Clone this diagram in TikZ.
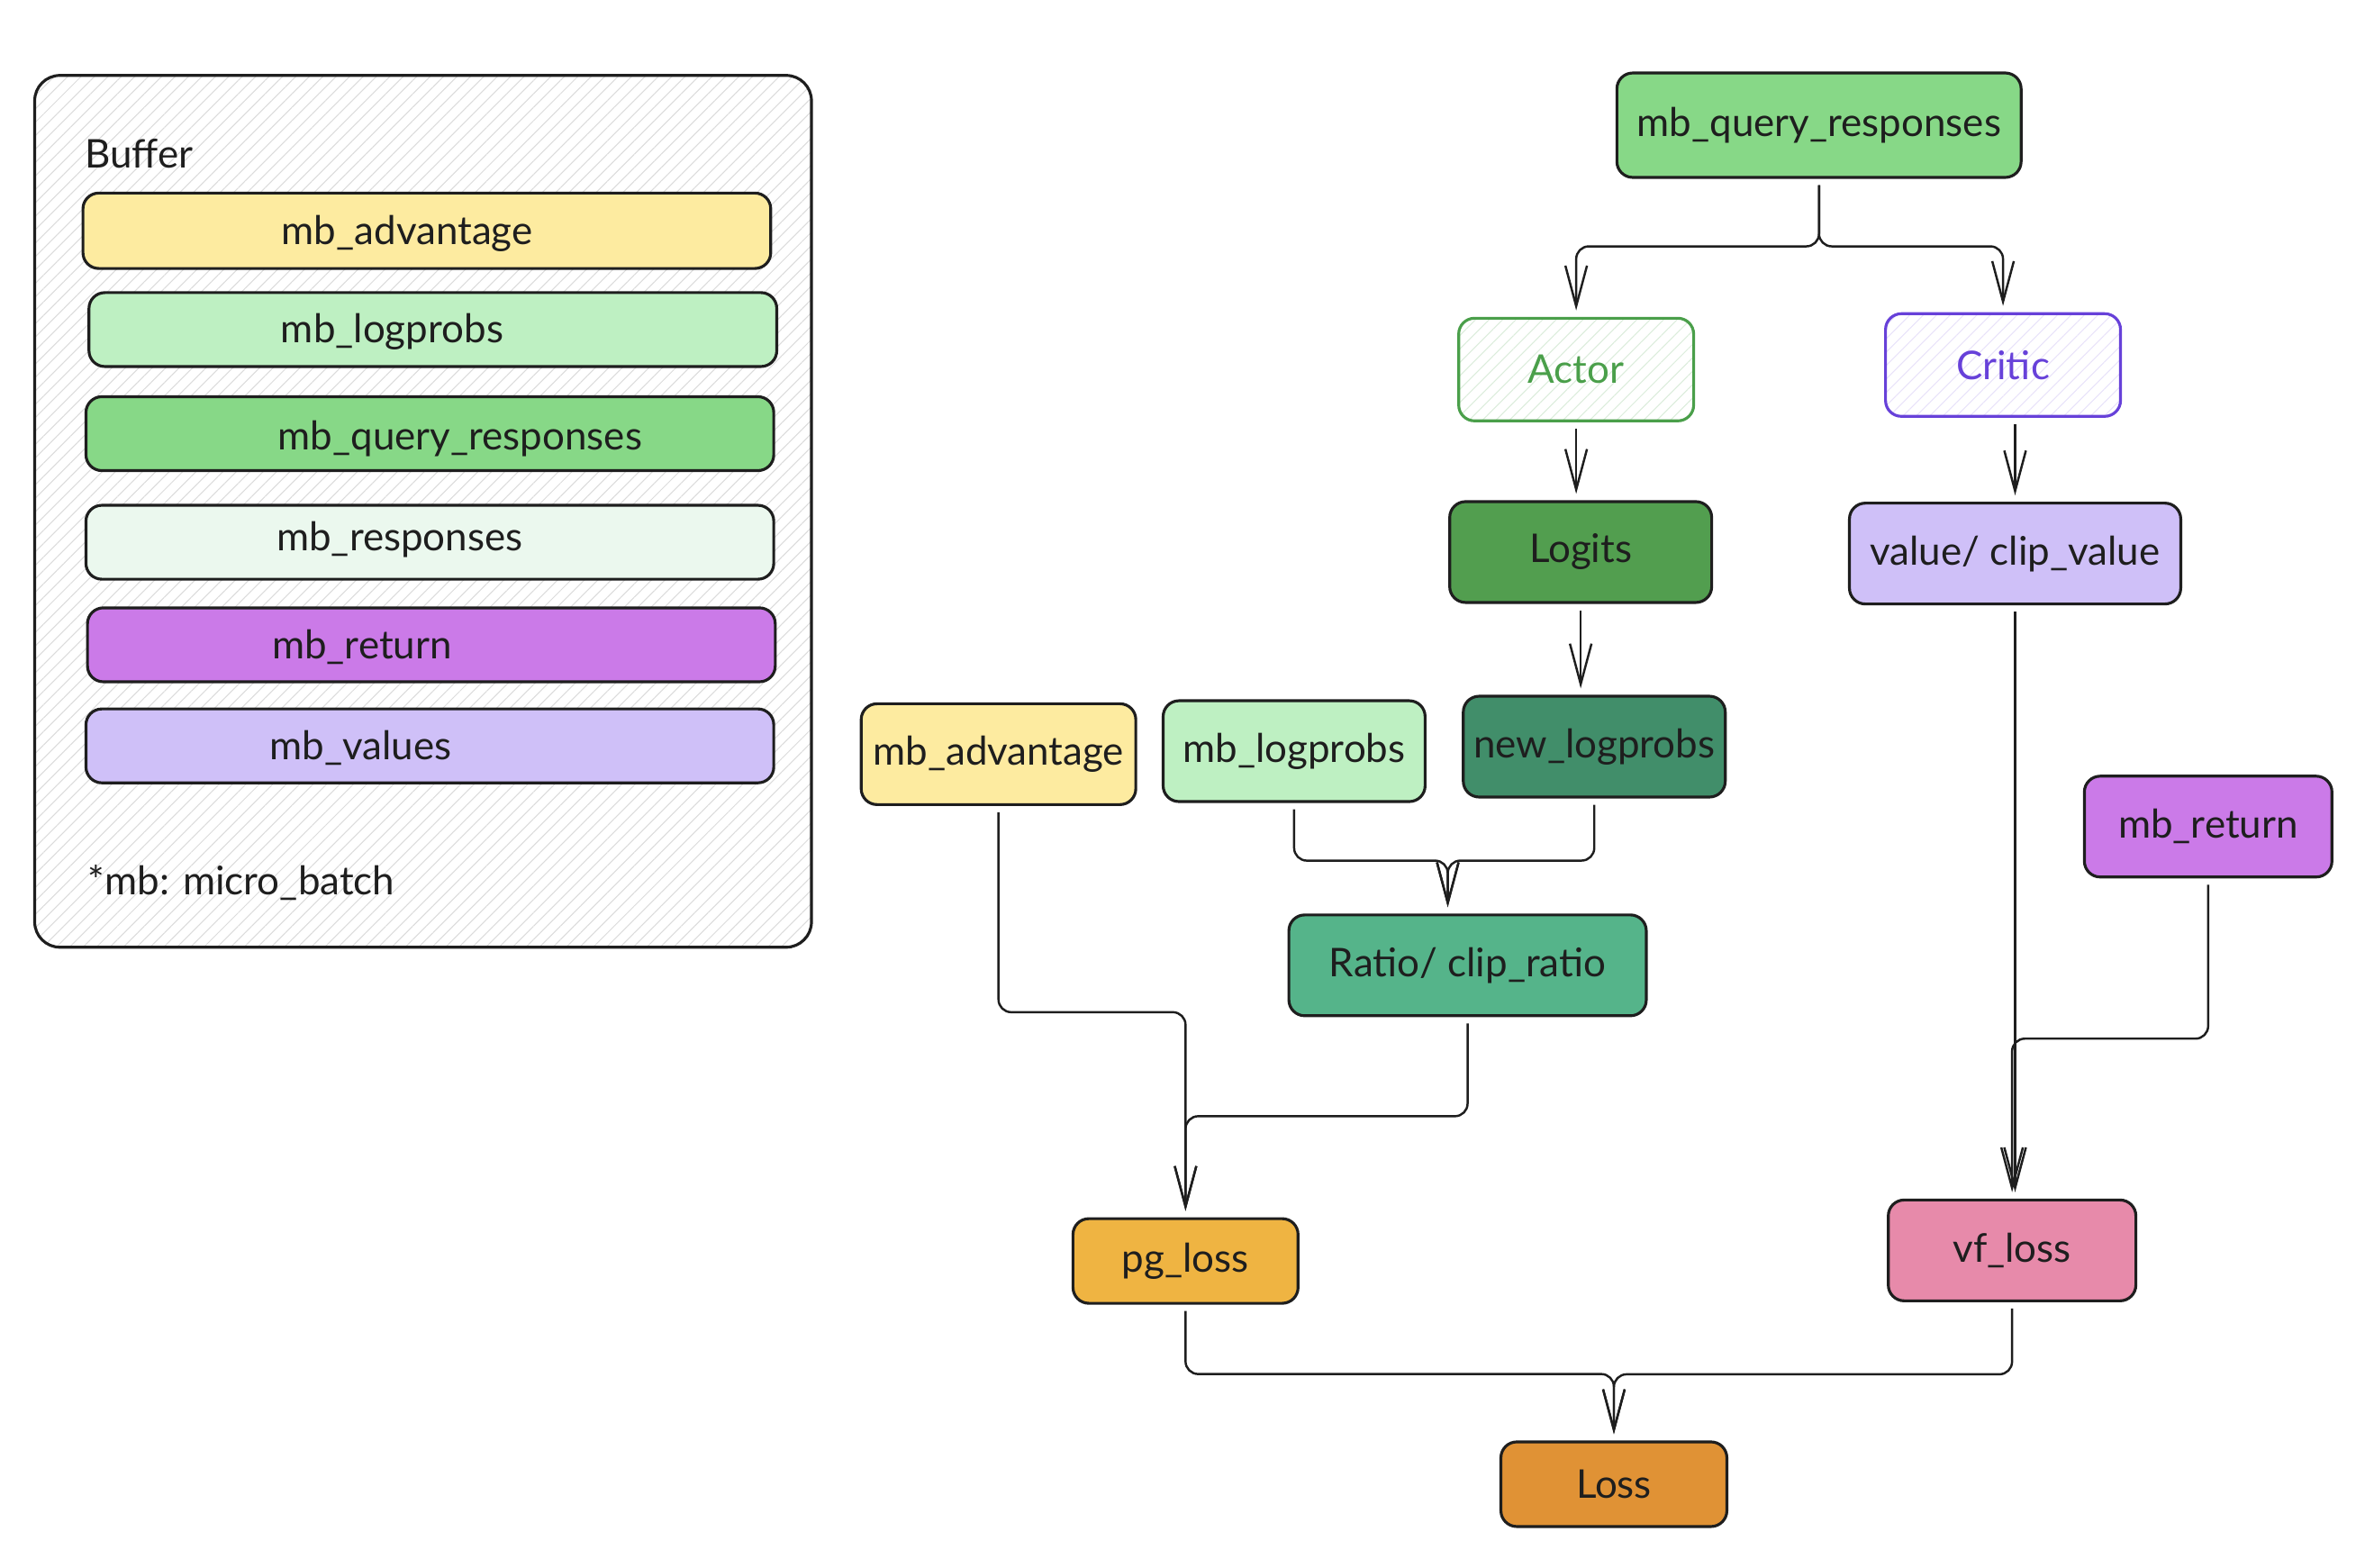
\documentclass[tikz,border=0pt]{standalone}
\usepackage{fontspec}
\setmainfont{Lato}
\usetikzlibrary{arrows.meta,patterns.meta}
\definecolor{ink}{HTML}{1E1E1E}
\definecolor{advyellow}{HTML}{FDEBA0}
\definecolor{lightgreen}{HTML}{BEF0C2}
\definecolor{qrgreen}{HTML}{87D887}
\definecolor{paleg}{HTML}{EBF8EE}
\definecolor{grape}{HTML}{CB7AE8}
\definecolor{lavender}{HTML}{CFC0F8}
\definecolor{logitsgreen}{HTML}{529E4F}
\definecolor{newlpgreen}{HTML}{418E6A}
\definecolor{ratiogreen}{HTML}{55B48A}
\definecolor{pgorange}{HTML}{EFB442}
\definecolor{vfpink}{HTML}{E78AAA}
\definecolor{lossorange}{HTML}{E09235}
\definecolor{actorgreen}{HTML}{4A9F4A}
\definecolor{criticviolet}{HTML}{6741D9}
\begin{document}
\begin{tikzpicture}[x=0.016747cm,y=-0.016747cm,
                        font=\fontsize{12.5}{15}\selectfont, text=ink,
                        frame/.style={draw=ink,line width=0.9pt,rounded corners=5pt},
                        box/.style={shape=rectangle,draw=ink,line width=0.9pt,rounded corners=5pt,minimum height=1.12cm,inner sep=0pt},
                        hatch/.style={pattern={Lines[angle=45,distance=3pt,line width=0.3pt]},pattern color=#1},
                        link/.style={draw=ink,line width=0.7pt,rounded corners=4pt,shorten <=2pt,shorten >=2pt,-{Straight Barb[length=4.5mm,width=2.4mm]}}
                        ]
                        \useasboundingbox (0,0) rectangle (1568,1039);
                        %Buffer
                        \draw [frame,rounded corners=8pt,hatch=black!14] (23,50) rectangle (538,628);
                        \node [anchor=west] (buftitle) at (49,102) {Buffer};
                        \draw [frame,fill=advyellow] (55,128) rectangle (511,178);
                        \node (bufadv) at (270,155) {mb\_advantage};
                        \draw [frame,fill=lightgreen] (59,194) rectangle (515,243);
                        \node (buflp) at (260,220) {mb\_logprobs};
                        \draw [frame,fill=qrgreen] (57,263) rectangle (513,312);
                        \node (bufqr) at (305,291) {mb\_query\_responses};
                        \draw [frame,fill=paleg] (57,335) rectangle (513,384);
                        \node (bufresp) at (265,358) {mb\_responses};
                        \draw [frame,fill=grape] (58,403) rectangle (514,452);
                        \node (bufret) at (240,429) {mb\_return};
                        \draw [frame,fill=lavender] (57,470) rectangle (513,519);
                        \node (bufval) at (239,496) {mb\_values};
                        \node [anchor=west] (bufnote) at (51,585) {*mb: micro\_batch};
                        %Actor / Critic
                        \node [box,fill=qrgreen,minimum width=4.49cm,minimum height=1.16cm] (mbqr) at (1206,83) {mb\_query\_responses};
                        \node [box,draw=actorgreen,hatch=actorgreen!20,text=actorgreen,minimum width=2.61cm,minimum height=1.14cm] (actor) at (1045,245) {Actor};
                        \node [box,draw=criticviolet,hatch=criticviolet!15,text=criticviolet,minimum width=2.61cm,minimum height=1.14cm] (critic) at (1328,242) {Critic};
                        \node [box,fill=logitsgreen,minimum width=2.91cm] (logits) at (1048,366) {Logits};
                        \node [box,fill=lavender,minimum width=3.68cm] (value) at (1336,367) {value/ clip\_value};
                        %Inputs
                        \node [box,fill=advyellow,minimum width=3.05cm] (mbadv) at (662,500) {mb\_advantage};
                        \node [box,fill=lightgreen,minimum width=2.91cm] (mblp) at (858,498) {mb\_logprobs};
                        \node [box,fill=newlpgreen,minimum width=2.91cm] (newlp) at (1057,495) {new\_logprobs};
                        \node [box,fill=grape,minimum width=2.75cm] (mbret) at (1464,548) {mb\_return};
                        \node [box,fill=ratiogreen,minimum width=3.97cm] (ratio) at (973,640) {Ratio/ clip\_ratio};
                        %Losses
                        \node [box,fill=pgorange,minimum width=2.5cm,minimum height=0.94cm] (pg) at (786,836) {pg\_loss};
                        \node [box,fill=vfpink,minimum width=2.75cm] (vf) at (1334,829) {vf\_loss};
                        \node [box,fill=lossorange,minimum width=2.51cm,minimum height=0.94cm] (loss) at (1070,984) {Loss};
                        %Connectors
                        \draw [link] (mbqr.south) -- ++(0,-0.75cm) -| (actor.north);
                        \draw [link] (mbqr.south) -- ++(0,-0.75cm) -| (critic.north);
                        \draw [link] (actor.south) -- (actor.south |- logits.north);
                        \draw [link] (value.north |- critic.south) -- (value.north);
                        \draw [link] (logits.south) -- (logits.south |- newlp.north);
                        \draw [link] (mblp.south) -- ++(0,-0.64cm) -| ([xshift=-0.22cm]ratio.north);
                        \draw [link] (newlp.south) -- ++(0,-0.69cm) -| ([xshift=-0.22cm]ratio.north);
                        \draw [link] (mbadv.south) -- ++(0,-2.29cm) -| (pg.north);
                        \draw [link] (ratio.south) -- ++(0,-1.1cm) -| (pg.north);
                        \draw [link] (value.south) -- (value.south |- vf.north);
                        \draw [link] (mbret.south) -- ++(0,-1.78cm) -| (vf.north);
                        \draw [link] (pg.south) -- ++(0,-0.77cm) -| (loss.north);
                        \draw [link] (vf.south) -- ++(0,-0.8cm) -| (loss.north);
                \end{tikzpicture}
\end{document}
